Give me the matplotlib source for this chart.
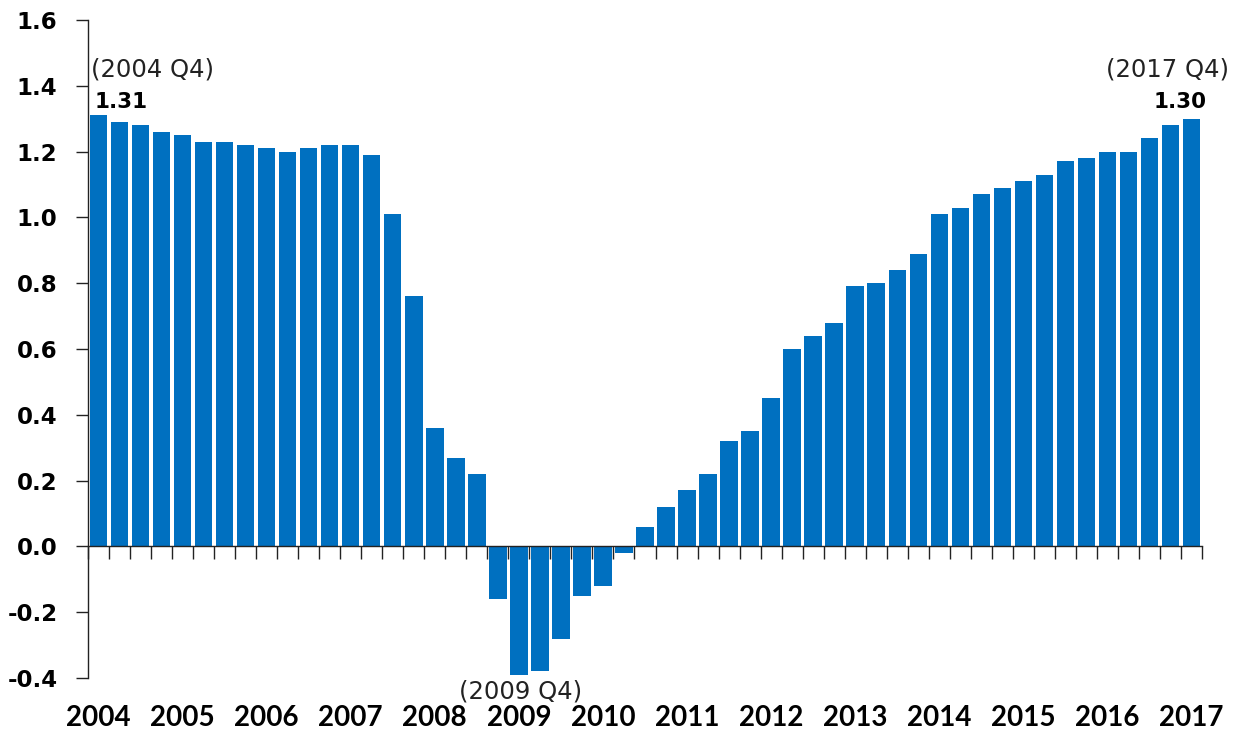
import matplotlib
matplotlib.use('Agg')
import matplotlib.pyplot as plt
import matplotlib.transforms as mtransforms
import numpy as np

# quarterly values, 2004 Q4 .. 2017 Q4
values = [1.31, 1.29, 1.28, 1.26, 1.25, 1.23, 1.23, 1.22, 1.21, 1.20,
          1.21, 1.22, 1.22, 1.19, 1.01, 0.76, 0.36, 0.27, 0.22,
          -0.16, -0.39, -0.38, -0.28, -0.15, -0.12, -0.02,
          0.06, 0.12, 0.17, 0.22, 0.32, 0.35, 0.45, 0.60, 0.64, 0.68,
          0.79, 0.80, 0.84, 0.89, 1.01, 1.03, 1.07, 1.09, 1.11, 1.13,
          1.17, 1.18, 1.20, 1.20, 1.24, 1.28, 1.30]
years = ['2004', '2005', '2006', '2007', '2008', '2009', '2010',
         '2011', '2012', '2013', '2014', '2015', '2016', '2017']
yticks = [-0.4, -0.2, 0.0, 0.2, 0.4, 0.6, 0.8, 1.0, 1.2, 1.4, 1.6]

bar_color = '#0070C0'
x = np.arange(len(values))

fig = plt.figure(figsize=(12.35, 7.35), dpi=100, facecolor='white')
ax = fig.add_axes([88 / 1235, (735 - 678) / 735, (1202 - 88) / 1235, (678 - 20) / 735])

ax.bar(x, values, width=0.83, color=bar_color, zorder=2)

ax.set_xlim(-0.5, len(values) - 0.5)
ax.set_ylim(-0.4, 1.6)

# spines
ax.spines['top'].set_visible(False)
ax.spines['right'].set_visible(False)
ax.spines['bottom'].set_position(('data', 0))
ax.spines['bottom'].set_zorder(3)
for s in ['left', 'bottom']:
    ax.spines[s].set_linewidth(1.0)
    ax.spines[s].set_color('#222222')

# y ticks
ax.set_yticks(yticks)
ax.set_yticklabels([f'{v:.1f}' for v in yticks], fontsize=16.5,
                   fontweight='bold', family='DejaVu Sans')
ax.tick_params(axis='y', direction='out', length=9, width=1, color='#222222', pad=13)

# x ticks at category boundaries, no labels
ax.set_xticks(np.arange(-0.5, len(values), 1.0))
ax.set_xticklabels([])
ax.tick_params(axis='x', direction='out', length=9, width=1, color='#222222')

# year labels along the bottom, under each Q4 bar
trans = mtransforms.blended_transform_factory(ax.transData, fig.transFigure)
for k, yr in enumerate(years):
    ax.text(4 * k, 1 - 718 / 735, yr, transform=trans, ha='center', va='center',
            fontsize=20, fontweight='bold', family='Lato', clip_on=False)

# annotations
ax.text(-0.35, 1.45, '(2004 Q4)', ha='left', va='center', fontsize=17.5,
        family='DejaVu Sans', color='#222222')
ax.text(-0.2, 1.35, '1.31', ha='left', va='center', fontsize=15.5,
        fontweight='bold', family='DejaVu Sans')
ax.text(53.8, 1.45, '(2017 Q4)', ha='right', va='center', fontsize=17.5,
        family='DejaVu Sans', color='#222222', clip_on=False)
ax.text(52.7, 1.35, '1.30', ha='right', va='center', fontsize=15.5,
        fontweight='bold', family='DejaVu Sans', clip_on=False)
ax.text(20.1, -0.44, '(2009 Q4)', ha='center', va='center', fontsize=17.5,
        family='DejaVu Sans', color='#222222', clip_on=False)

plt.savefig('out.png', dpi=100, facecolor='white')
